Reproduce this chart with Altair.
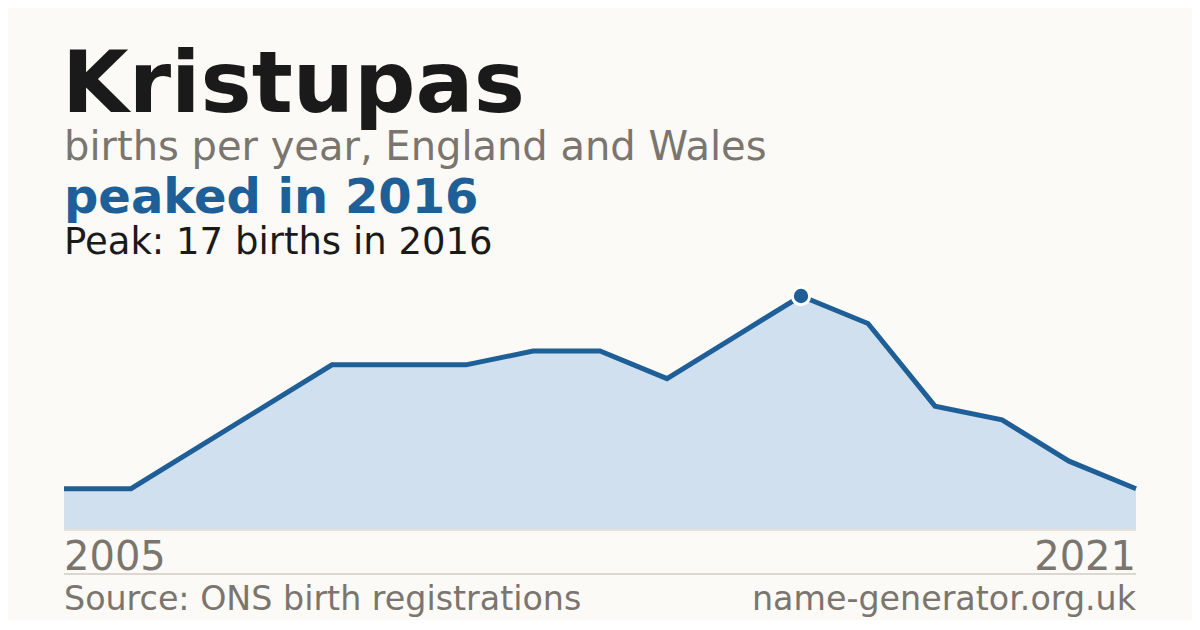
import altair as alt
import pandas as pd

years = list(range(2005, 2022))
births = [3, 3, 6, 9, 12, 12, 12, 13, 13, 11, 14, 17, 15, 9, 8, 5, 3]
peak_year = 2016
peak_value = 17

title_text = "Kristupas"
subtitle_text = "births per year, England and Wales"
headline_text = "peaked in 2016"
peak_text = "Peak: 17 births in 2016"
start_label = "2005"
end_label = "2021"
source_text = "Source: ONS birth registrations"
site_text = "name-generator.org.uk"

df = pd.DataFrame({"year": years, "births": births})
peak_df = pd.DataFrame({"year": [peak_year], "births": [peak_value]})

W, H = 1072, 234
FONT = "DejaVu Sans"
BG = "#fbfaf6"
GRAY = "#7a756e"
BLUE = "#1f5f97"

x = alt.X("year:Q", scale=alt.Scale(domain=[2005, 2021], nice=False, zero=False), axis=None)
y = alt.Y("births:Q", scale=alt.Scale(domain=[0, 17], nice=False), axis=None)

base = alt.Chart(df)

area = base.mark_area(color="#d0e0ef", opacity=1).encode(x=x, y=y)
line = base.mark_line(color=BLUE, strokeWidth=5, strokeJoin="miter").encode(x=x, y=y)
peak = alt.Chart(peak_df).mark_point(
    filled=True, fill=BLUE, stroke="white", strokeWidth=3, size=300, opacity=1, shape="circle"
).encode(x=x, y=y)

baseline = base.mark_rule(color="#e6dfd6", strokeWidth=1).encode(
    x=alt.value(0), x2=alt.value(W), y=alt.value(H)
)
sep = base.mark_rule(color="#dcd7cf", strokeWidth=1).encode(
    x=alt.value(0), x2=alt.value(W), y=alt.value(278)
)

def txt(text, xv, yv, size, color, weight="normal", align="left"):
    return alt.Chart(pd.DataFrame({"t": [text]})).mark_text(
        font=FONT, fontSize=size, color=color, fontWeight=weight,
        align=align, baseline="alphabetic"
    ).encode(text="t:N", x=alt.value(xv), y=alt.value(yv))

texts = [
    txt(title_text, -2, -184, 86, "#1a1a1a", "bold"),
    txt(subtitle_text, 0, -136, 40, GRAY),
    txt(headline_text, 0, -83, 48, BLUE, "bold"),
    txt(peak_text, 0, -42, 37, "#1a1a1a"),
    txt(start_label, 0, 274, 40, GRAY),
    txt(end_label, W, 274, 40, GRAY, align="right"),
    txt(source_text, 0, 314, 33.3, GRAY),
    txt(site_text, W, 314, 33.3, GRAY, align="right"),
]

chart = alt.layer(area, line, baseline, sep, peak, *texts).properties(
    width=W, height=H,
    autosize=alt.AutoSizeParams(type="none"),
    padding={"left": 56, "top": 288, "right": 56, "bottom": 90},
    background=BG,
).configure_view(stroke=None)

chart.save("out.html", embed_options={"renderer": "svg", "actions": False})
